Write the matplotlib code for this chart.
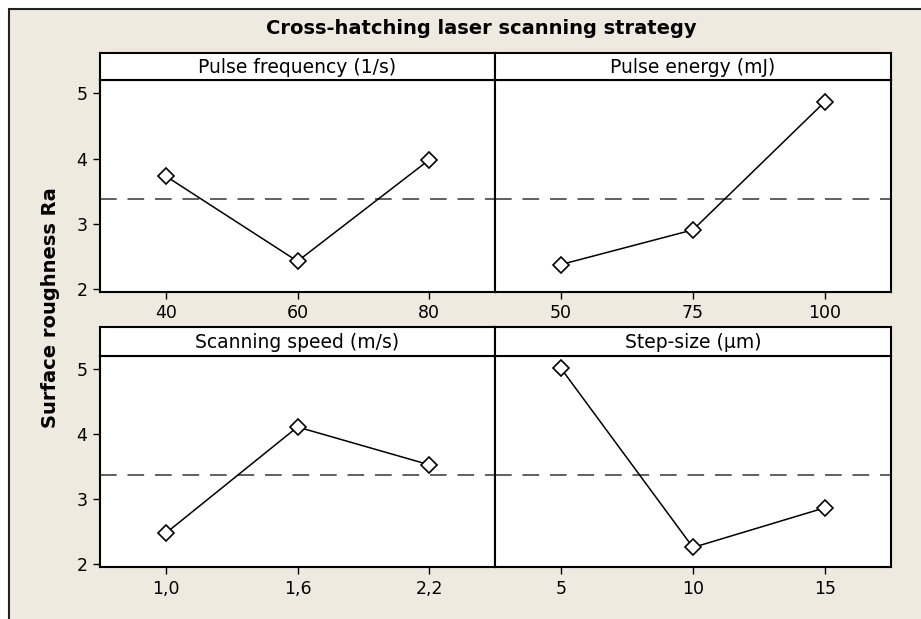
import matplotlib
matplotlib.use('Agg')
import matplotlib.pyplot as plt
from matplotlib.patches import Rectangle

# data
title = 'Cross-hatching laser scanning strategy'
ylabel = 'Surface roughness Ra'
factors = ['Pulse frequency (1/s)', 'Pulse energy (mJ)', 'Scanning speed (m/s)', 'Step-size (µm)']
levels = [['40', '60', '80'], ['50', '75', '100'], ['1,0', '1,6', '2,2'], ['5', '10', '15']]
pulse_freq = [3.73, 2.43, 3.98]
pulse_energy = [2.38, 2.91, 4.87]
scan_speed = [2.48, 4.11, 3.53]
step_size = [5.01, 2.26, 2.87]
means = [pulse_freq, pulse_energy, scan_speed, step_size]
grand_mean = 3.375
yticks = [2, 3, 4, 5]

W, H = 921, 619
fig = plt.figure(figsize=(W / 100, H / 100), dpi=100)
fig.patch.set_facecolor('white')
plt.rcParams['font.family'] = ['DejaVu Sans']

# beige frame, clipped on right and bottom like the screenshot
fig.patches.append(Rectangle((9 / W, -0.1), 1.2, 1 - 9 / H + 0.1, transform=fig.transFigure,
                             facecolor='#EEEAE0', edgecolor='#222222', lw=1.5, zorder=-5))

def px(x0, y0, x1, y1):
    return [x0 / W, 1 - y1 / H, (x1 - x0) / W, (y1 - y0) / H]

cols = [(100, 495), (495, 891)]
rows = [(53, 80, 292), (327, 356, 567)]

for i in range(4):
    r, c = divmod(i, 2)
    x0, x1 = cols[c]
    s0, s1, b = rows[r]
    ax = fig.add_axes(px(x0, s1, x1, b))
    ax.set_facecolor('white')
    xs = [1, 2, 3]
    ax.axhline(grand_mean, color='#444444', lw=1.2, dashes=(10, 6.5), zorder=1)
    ax.plot(xs, means[i], color='black', lw=1.1, marker='D', ms=8.5,
            mfc='white', mec='black', mew=1.2, zorder=3)
    ax.set_xlim(0.5, 3.5)
    ax.set_ylim(1.96, 5.2)
    ax.set_xticks(xs)
    ax.set_xticklabels(levels[i])
    ax.set_yticks(yticks)
    ax.tick_params(direction='out', length=5, width=1, color='black', pad=4, labelsize=12.5)
    if c == 1:
        ax.tick_params(axis='y', left=False, labelleft=False)
    for sp in ax.spines.values():
        sp.set_linewidth(1.5)

    st = fig.add_axes(px(x0, s0, x1, s1))
    st.set_facecolor('white')
    st.set_xticks([])
    st.set_yticks([])
    for sp in st.spines.values():
        sp.set_linewidth(1.5)
    st.text(0.5, 0.45, factors[i], ha='center', va='center', fontsize=13.5, transform=st.transAxes)

fig.text(481 / W, 1 - 29 / H, title, ha='center', va='center', fontsize=14, fontweight='bold')
fig.text(51 / W, 1 - 308 / H, ylabel, ha='center', va='center', rotation=90,
         fontsize=14, fontweight='bold')

fig.savefig('out.png', dpi=100)
